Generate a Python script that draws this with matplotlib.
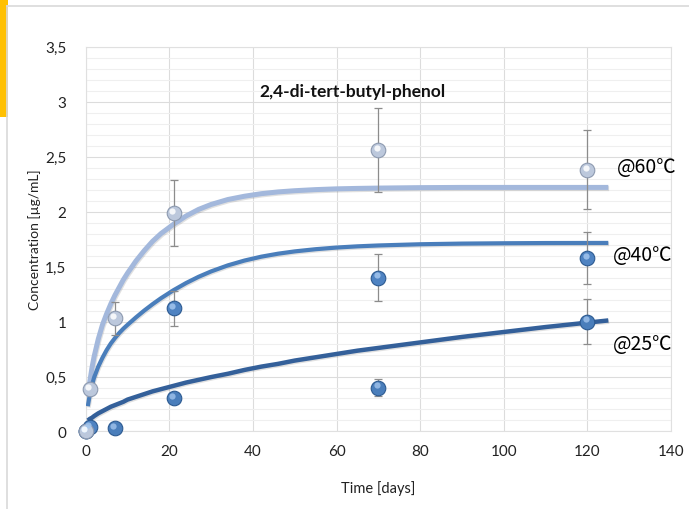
import numpy as np
import matplotlib
matplotlib.use("Agg")
import matplotlib.pyplot as plt
import matplotlib.patheffects as pe
from matplotlib.patches import Rectangle
from matplotlib.lines import Line2D
from matplotlib.ticker import MultipleLocator, FuncFormatter
from matplotlib.transforms import offset_copy

plt.rcParams['font.family'] = ['Lato', 'DejaVu Sans']

# Measured concentrations (µg/mL) with standard deviations
t_60 = [0, 1, 7, 21, 70, 120]
c_60 = [0, 0.39, 1.03, 1.99, 2.56, 2.38]
e_60 = [0, 0.04, 0.15, 0.30, 0.38, 0.36]

t_40 = [0, 1, 21, 70, 120]
c_40 = [0, 0.04, 1.12, 1.40, 1.58]
e_40 = [0, 0, 0.16, 0.21, 0.235]

t_25 = [0, 7, 21, 70, 120]
c_25 = [0, 0.03, 0.30, 0.40, 1.00]
e_25 = [0, 0, 0.04, 0.075, 0.205]

# Fitted release curves
fit_t = [0.5, 1, 1.5, 2, 3, 4, 5, 6, 7, 8, 9, 10, 12, 14, 16, 18, 21, 24, 27, 30,
         34, 38, 42, 46, 50, 55, 60, 65, 70, 80, 90, 100, 110, 125]
fit_60 = [0.33, 0.46, 0.58, 0.68, 0.84, 0.97, 1.07, 1.16, 1.24, 1.31, 1.38, 1.44,
          1.55, 1.645, 1.73, 1.80, 1.885, 1.96, 2.02, 2.065, 2.11, 2.14, 2.163, 2.179,
          2.19, 2.20, 2.207, 2.211, 2.214, 2.218, 2.22, 2.22, 2.22, 2.22]
fit_40 = [0.23, 0.34, 0.42, 0.49, 0.59, 0.67, 0.74, 0.80, 0.85, 0.895, 0.935, 0.97,
          1.037, 1.10, 1.158, 1.212, 1.285, 1.35, 1.407, 1.456, 1.511, 1.555, 1.59, 1.617,
          1.638, 1.658, 1.673, 1.684, 1.692, 1.703, 1.709, 1.712, 1.714, 1.715]
fit_25 = [0.10, 0.115, 0.125, 0.14, 0.165, 0.185, 0.205, 0.225, 0.24, 0.255, 0.27, 0.29,
          0.315, 0.34, 0.365, 0.385, 0.415, 0.445, 0.47, 0.495, 0.525, 0.56, 0.59, 0.615,
          0.645, 0.675, 0.705, 0.735, 0.76, 0.81, 0.86, 0.905, 0.95, 1.01]

fig = plt.figure(figsize=(6.89, 5.10), dpi=100)
ax = fig.add_axes([0.1244, 0.152, 0.8495, 0.7545])

# chart frame and the orange marker strip on the left
fig.add_artist(Line2D([7 / 689, 1], [1 - 7 / 510, 1 - 7 / 510], transform=fig.transFigure,
                      color='#d9d9d9', lw=1.2))
fig.add_artist(Line2D([7 / 689, 7 / 689], [0, 1 - 7 / 510], transform=fig.transFigure,
                      color='#d9d9d9', lw=1.2))
fig.add_artist(Rectangle((0, 1 - 118 / 510), 8 / 689, 118 / 510, transform=fig.transFigure,
                         color='#ffc000', lw=0))

ax.set_xlim(0, 140)
ax.set_ylim(0, 3.5)
ax.xaxis.set_major_locator(MultipleLocator(20))
ax.yaxis.set_major_locator(MultipleLocator(0.5))
ax.yaxis.set_minor_locator(MultipleLocator(0.1))
ax.yaxis.set_major_formatter(FuncFormatter(lambda v, p: f"{v:g}".replace('.', ',')))
ax.grid(True, which='major', color='#dcdcdc', lw=0.8)
ax.grid(True, which='minor', axis='y', color='#efefef', lw=0.8)
ax.set_axisbelow(True)
for s in ax.spines.values():
    s.set_color('#e0e0e0')
    s.set_linewidth(0.8)
ax.tick_params(which='both', length=0, labelsize=11, colors='#222222')
ax.tick_params(axis='y', pad=14)
ax.tick_params(axis='x', pad=9)

ax.set_xlabel("Time [days]", fontsize=10.5, color='#222222', labelpad=16)
ax.set_ylabel("Concentration [µg/mL]", fontsize=10, color='#222222', labelpad=3)

shadow = [pe.SimpleLineShadow(offset=(0.6, -0.9), shadow_color='#555555', alpha=0.18),
          pe.Normal()]
ax.plot(fit_t, fit_60, color='#a3b8dc', lw=3.6, solid_capstyle='butt',
        solid_joinstyle='round', path_effects=shadow, zorder=3)
ax.plot(fit_t, fit_40, color='#4a7ebb', lw=3.0, solid_capstyle='butt',
        solid_joinstyle='round', path_effects=shadow, zorder=3)
ax.plot(fit_t, fit_25, color='#34609a', lw=3.2, solid_capstyle='butt',
        solid_joinstyle='round', path_effects=shadow, zorder=3)


def spheres(t, c, e, base, edge, hi):
    ax.errorbar(t, c, yerr=e, fmt='none', ecolor='#8c8c8c', elinewidth=0.9,
                capsize=3, capthick=0.9, zorder=4)
    ax.plot(t, c, 'o', ms=10.5, mfc=base, mec=edge, mew=0.8, zorder=5, clip_on=False)
    tr = offset_copy(ax.transData, fig=fig, x=-1.2, y=1.5, units='points')
    ax.plot(t, c, 'o', ms=4.5, mfc=hi, mec='none', alpha=0.85, transform=tr,
            zorder=6, clip_on=False)


spheres(t_25, c_25, e_25, '#4a7ebb', '#2c5a91', '#9cc0ea')
spheres(t_40, c_40, e_40, '#4f83c2', '#2c5a91', '#a3c6ee')
spheres(t_60, c_60, e_60, '#bcc8dc', '#8d9ab0', '#ffffff')

ax.text(63.7, 3.10, "2,4-di-tert-butyl-phenol", fontsize=12.5, fontweight='bold',
        ha='center', va='center', color='#111111')

lab_font = ['Noto Sans CJK JP', 'DejaVu Sans']
ax.text(127.1, 2.41, "@60℃", family=lab_font, fontsize=14, va='center', ha='left', clip_on=False)
ax.text(126.2, 1.61, "@40℃", family=lab_font, fontsize=14, va='center', ha='left', clip_on=False)
ax.text(126.2, 0.80, "@25℃", family=lab_font, fontsize=14, va='center', ha='left', clip_on=False)

fig.savefig("out.png", dpi=100)
